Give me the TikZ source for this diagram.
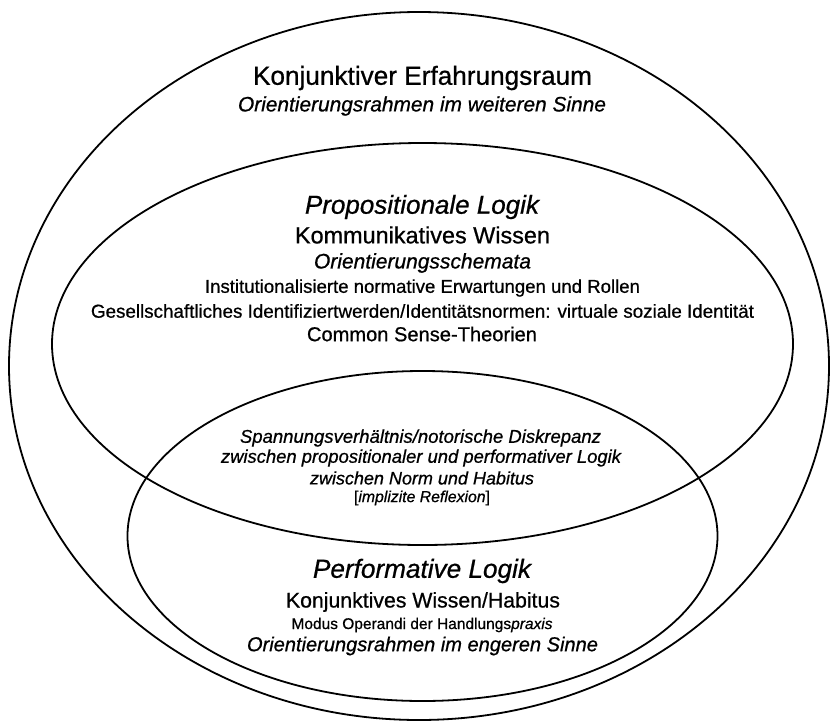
\documentclass[tikz,border=0pt]{standalone}
\usepackage{graphicx}
\usepackage{fontspec}
\setmainfont{Liberation Sans}[FakeBold=0.7]
\newcommand{\fitw}[2]{\resizebox{#1pt}{!}{#2}}
\begin{document}
\begin{tikzpicture}[x=1pt,y=-1pt,
  ring/.style={line width=1.8pt, draw=black},
  lbl/.style={inner sep=0pt, anchor=center, text=black},
]
\useasboundingbox (0,0) rectangle (831,721);
\fill[white] (0,0) rectangle (831,721);
% ellipses
\draw[ring] (419,366) ellipse [x radius=410pt, y radius=354pt];
\draw[ring] (422.5,344) ellipse [x radius=370.5pt, y radius=201pt];
\draw[ring] (422.5,536) ellipse [x radius=295pt, y radius=165pt];
% outer texts
\node[lbl] (o1) at (422.5,78) {\fitw{339}{Konjunktiver Erfahrungsraum}};
\node[lbl] (o2) at (422,106) {\fitw{368}{\itshape Orientierungsrahmen im weiteren Sinne}};
% middle texts
\node[lbl] (m1) at (422,207) {\fitw{234}{\itshape Propositionale Logik}};
\node[lbl] (m2) at (422.5,235) {\fitw{255}{Kommunikatives Wissen}};
\node[lbl] (m3) at (422.5,263) {\fitw{217}{\itshape Orientierungsschemata}};
\node[lbl] (m4) at (422.5,288) {\fitw{435}{Institutionalisierte normative Erwartungen und Rollen}};
\node[lbl] (m5) at (422.5,311) {\fitw{663}{Gesellschaftliches Identifiziertwerden/Identitätsnormen: virtuale soziale Identität}};
\node[lbl] (m6) at (422,334) {\fitw{230}{Common Sense-Theorien}};
% overlap texts
\node[lbl] (s1) at (420.5,438) {\fitw{361}{\itshape Spannungsverhältnis/notorische Diskrepanz}};
\node[lbl] (s2) at (421,458) {\fitw{400}{\itshape zwischen propositionaler und performativer Logik}};
\node[lbl] (s3) at (422,478) {\fitw{224}{\itshape zwischen Norm und Habitus}};
\node[lbl] (s4) at (422,498) {\fitw{136}{[\textit{implizite Reflexion}]}};
% inner texts
\node[lbl] (p1) at (422,571) {\fitw{218}{\itshape Performative Logik}};
\node[lbl] (p2) at (423,602) {\fitw{274}{Konjunktives Wissen/Habitus}};
\node[lbl] (p3) at (422,625) {\fitw{261}{Modus Operandi der Handlungs\textit{praxis}}};
\node[lbl] (p4) at (422.5,646) {\fitw{351}{\itshape Orientierungsrahmen im engeren Sinne}};
\end{tikzpicture}
\end{document}
